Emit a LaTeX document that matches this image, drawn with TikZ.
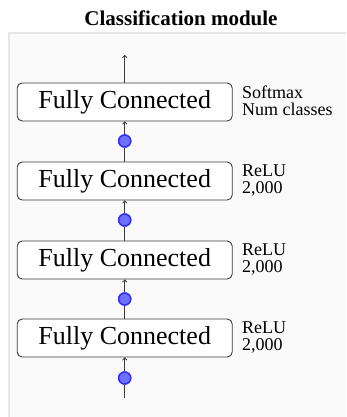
\documentclass[tikz,border=0pt]{standalone}
\usepackage{fontspec}
\setmainfont{Liberation Serif}[BoldFont={Liberation Serif Bold}]
\usetikzlibrary{arrows.meta}
\definecolor{panelfill}{HTML}{FAFAFA}
\definecolor{panelline}{HTML}{E6E6E6}
\definecolor{wire}{HTML}{3A3A3A}
\definecolor{dotfill}{HTML}{7070FF}
\definecolor{dotline}{HTML}{2E2EFF}
\tikzset{
  fcbox/.style={draw=wire, line width=0.9pt, rounded corners=5pt, fill=white,
    minimum width=215pt, minimum height=38pt, inner sep=0pt,
    font=\fontsize{26}{30}\selectfont},
  actdot/.style={circle, draw=dotline, line width=1.4pt, fill=dotfill,
    minimum size=12pt, inner sep=0pt},
  sidelabel/.style={anchor=north west, inner sep=0pt, align=left,
    font=\fontsize{18}{17}\selectfont},
  wireline/.style={draw=wire, line width=0.8pt},
  wirearrow/.style={wireline, -{To[length=3pt, width=5pt]}},
}
\begin{document}
\begin{tikzpicture}[x=1pt, y=-1pt]
  \useasboundingbox (0,0) rectangle (346,417);
  % panel behind the stack
  \fill[panelline] (8,32.5) rectangle (346,417);
  \fill[panelfill] (10,34.5) rectangle (346,417);
  % title
  \node[font=\fontsize{21}{24}\selectfont\bfseries, anchor=base] (title) at (181,26) {Classification module};
  % layers
  \node[fcbox] (fc1) at (124.7,102) {Fully Connected};
  \node[fcbox] (fc2) at (124.7,181) {Fully Connected};
  \node[fcbox] (fc3) at (124.7,260) {Fully Connected};
  \node[fcbox] (fc4) at (124.7,338) {Fully Connected};
  % activations
  \node[actdot] (d1) at (124.7,141) {};
  \node[actdot] (d2) at (124.7,220) {};
  \node[actdot] (d3) at (124.7,299) {};
  \node[actdot] (d4) at (124.7,378) {};
  \coordinate (out) at (124.7,55);
  \coordinate (in) at (124.7,398);
  % connectors
  \draw[wirearrow] (fc1.north) -- (out);
  \draw[wireline] (fc2.north) -- (d1);
  \draw[wirearrow] (d1) -- (fc1.south);
  \draw[wireline] (fc3.north) -- (d2);
  \draw[wirearrow] (d2) -- (fc2.south);
  \draw[wireline] (fc4.north) -- (d3);
  \draw[wirearrow] (d3) -- (fc3.south);
  \draw[wireline] (in) -- (d4);
  \draw[wirearrow] (d4) -- (fc4.south);
  % redraw dots over the wires
  \foreach \d in {d1,d2,d3,d4} \node[actdot] at (\d) {};
  % layer settings
  \node[sidelabel] (l1) at (242,86) {Softmax\\Num classes};
  \node[sidelabel] (l2) at (242,165) {ReLU\\2,000};
  \node[sidelabel] (l3) at (242,244) {ReLU\\2,000};
  \node[sidelabel] (l4) at (242,322) {ReLU\\2,000};
\end{tikzpicture}
\end{document}
